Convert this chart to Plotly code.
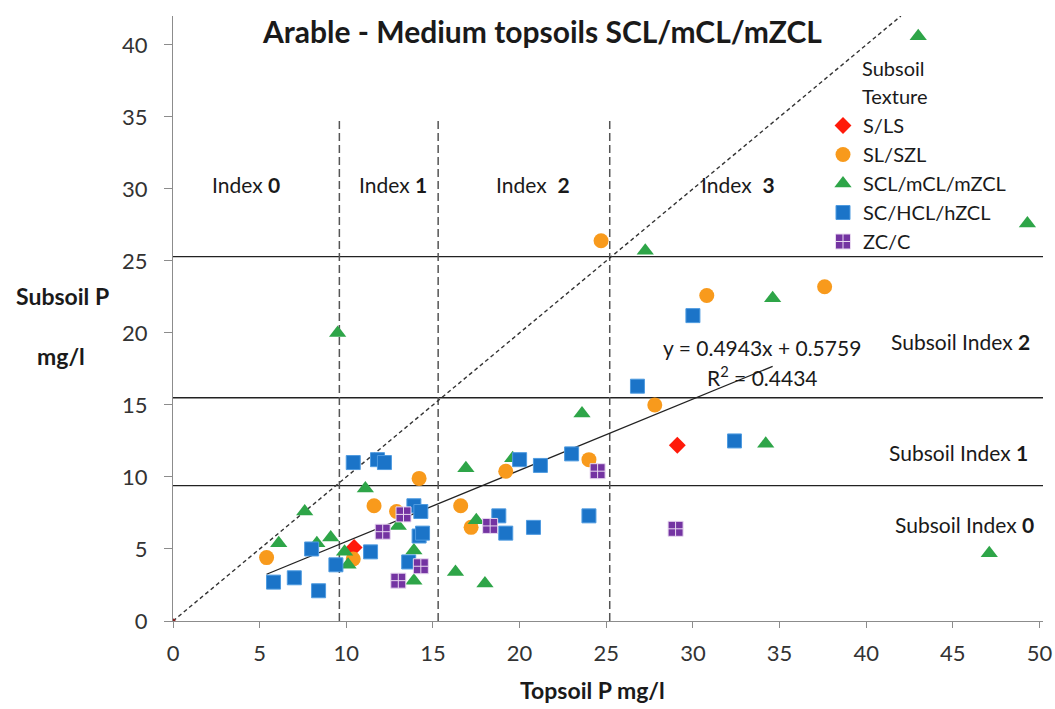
import plotly.graph_objects as go

# ---- data ----
sls_x = [29.1, 10.45]
sls_y = [12.2, 5.1]

slszl_x = [24.7, 30.8, 37.6, 27.8, 24.0, 19.2, 14.2, 11.6, 12.9, 16.6, 17.2, 5.4, 10.4]
slszl_y = [26.4, 22.6, 23.2, 15.0, 11.2, 10.4, 9.9, 8.0, 7.6, 8.0, 6.5, 4.4, 4.3]

scl_x = [43.0, 49.3, 27.25, 34.6, 34.2, 23.6, 9.5, 47.1, 16.9, 19.6, 11.1, 13.0, 17.5,
         13.9, 13.9, 16.3, 18.0, 7.6, 6.1, 8.3, 9.1, 9.9, 10.1]
scl_y = [40.6, 27.6, 25.7, 22.4, 12.3, 14.4, 20.0, 4.7, 10.6, 11.3, 9.2, 6.6, 7.0,
         4.9, 2.8, 3.4, 2.6, 7.6, 5.4, 5.4, 5.8, 4.8, 3.9]

sc_x = [30.0, 26.8, 32.4, 24.0, 23.0, 21.2, 20.0, 20.8, 18.8, 19.2, 11.8, 12.2, 13.9,
        14.3, 14.2, 14.4, 13.6, 11.4, 10.4, 8.0, 9.4, 5.8, 7.0, 8.4]
sc_y = [21.2, 16.3, 12.5, 7.3, 11.6, 10.8, 11.2, 6.5, 7.3, 6.1, 11.2, 11.0, 8.0,
        7.6, 5.9, 6.1, 4.1, 4.8, 11.0, 5.0, 3.9, 2.7, 3.0, 2.1]

zc_x = [29.0, 24.5, 18.3, 13.3, 12.1, 14.3, 13.0]
zc_y = [6.4, 10.4, 6.6, 7.4, 6.2, 3.8, 2.8]

topsoil_bounds = [9.6, 15.3, 25.2]
subsoil_bounds = [9.4, 15.5, 25.3]
vline_top = 34.8
x_max = 50.2
y_max = 42.0
one_to_one = [0, 42.0]

slope, intercept = 0.4943, 0.5759
trend_x = [5.4, 34.6]

x_ticks = [0, 5, 10, 15, 20, 25, 30, 35, 40, 45, 50]
y_ticks = [0, 5, 10, 15, 20, 25, 30, 35, 40]

FONT = "Lato"

fig = go.Figure()

# reference lines
for yb in subsoil_bounds:
    fig.add_trace(go.Scatter(x=[0, x_max], y=[yb, yb], mode="lines",
                             line=dict(color="#222222", width=1.3),
                             showlegend=False, hoverinfo="skip"))
for xb in topsoil_bounds:
    fig.add_trace(go.Scatter(x=[xb, xb], y=[0, vline_top], mode="lines",
                             line=dict(color="#555555", width=1.5, dash="8px,4px"),
                             showlegend=False, hoverinfo="skip"))
fig.add_trace(go.Scatter(x=one_to_one, y=one_to_one, mode="lines",
                         line=dict(color="#333333", width=1.4, dash="4px,3px"),
                         showlegend=False, hoverinfo="skip"))
fig.add_trace(go.Scatter(x=trend_x, y=[slope * v + intercept for v in trend_x], mode="lines",
                         line=dict(color="#222222", width=1.3),
                         showlegend=False, hoverinfo="skip"))
fig.add_trace(go.Scatter(x=[0], y=[0], mode="markers",
                         marker=dict(color="#8B2020", size=5),
                         showlegend=False, hoverinfo="skip"))

# data series
fig.add_trace(go.Scatter(x=sls_x, y=sls_y, mode="markers", name="S/LS", legendgroup="a",
                         marker=dict(symbol="diamond", size=13, color="#FF1A0A")))
fig.add_trace(go.Scatter(x=slszl_x, y=slszl_y, mode="markers", name="SL/SZL", legendgroup="b",
                         marker=dict(symbol="circle", size=15, color="#F89A1C")))
fig.add_trace(go.Scatter(x=scl_x, y=scl_y, mode="markers", name="SCL/mCL/mZCL", legendgroup="c",
                         marker=dict(symbol="triangle-up", size=15, color="#2EA548")))
fig.add_trace(go.Scatter(x=sc_x, y=sc_y, mode="markers", name="SC/HCL/hZCL", legendgroup="d",
                         marker=dict(symbol="square", size=14, color="#1B74C8",
                                     line=dict(color="#4F9BE0", width=1))))
fig.add_trace(go.Scatter(x=zc_x, y=zc_y, mode="markers", name="ZC/C", legendgroup="e",
                         marker=dict(symbol="square-cross", size=15, color="#7434A2",
                                     line=dict(color="#E8D8F0", width=1))))

ann = []
def add_text(x, y, text, size=21, bold=False, xanchor="center", xref="paper", yref="paper"):
    ann.append(dict(x=x, y=y, xref=xref, yref=yref, text=("<b>%s</b>" % text) if bold else text,
                    showarrow=False, xanchor=xanchor, yanchor="middle",
                    font=dict(family=FONT, size=size, color="#1a1a1a")))

PLOT_W = 1055 - 173 - 12
PLOT_H = 709 - 16 - 88
def px_x(p):
    return (p - 173) / PLOT_W
def px_y(p):
    return (621 - p) / PLOT_H

add_text(px_x(246), px_y(184), "Index <b>0</b>")
add_text(px_x(393), px_y(184), "Index <b>1</b>")
add_text(px_x(533), px_y(184), "Index  <b>2</b>")
add_text(px_x(738), px_y(184), "Index  <b>3</b>")
add_text(px_x(1032), px_y(341), "Subsoil Index <b>2</b>", xanchor="right")
add_text(px_x(1030), px_y(452), "Subsoil Index <b>1</b>", xanchor="right")
add_text(px_x(1036), px_y(524), "Subsoil Index <b>0</b>", xanchor="right")
add_text(px_x(762), px_y(347), "y = 0.4943x + 0.5759")
add_text(px_x(762), px_y(376), "R<sup>2</sup> = 0.4434")
add_text(px_x(860), px_y(68), "Subsoil", size=20, xanchor="left")
add_text(px_x(860), px_y(96), "Texture", size=20, xanchor="left")
# axis titles
add_text(px_x(62), px_y(296), "Subsoil P", size=23, bold=True)
add_text(px_x(61), px_y(356), "mg/l", size=23, bold=True)
add_text(px_x(592), px_y(690), "Topsoil P mg/l", size=23, bold=True)
# title
add_text(px_x(542), px_y(31), "Arable - Medium topsoils SCL/mCL/mZCL", size=30, bold=True)

fig.update_layout(
    width=1055, height=709,
    margin=dict(l=173, r=12, t=16, b=88, autoexpand=False),
    paper_bgcolor="white", plot_bgcolor="white",
    font=dict(family=FONT, size=20, color="#222222"),
    annotations=ann,
    showlegend=True,
    legend=dict(x=px_x(823), y=px_y(106), xanchor="left", yanchor="top",
                bgcolor="rgba(0,0,0,0)", font=dict(family=FONT, size=20, color="#1a1a1a"),
                tracegroupgap=0, itemwidth=30),
    xaxis=dict(range=[0, x_max], tickvals=x_ticks, showgrid=False, zeroline=False,
               showline=True, linecolor="#8c8c8c", linewidth=1.2, automargin=False,
               ticks="outside", ticklen=6, tickcolor="#8c8c8c", ticklabelstandoff=6,
               tickfont=dict(family=FONT, size=22, color="#333333")),
    yaxis=dict(range=[0, y_max], tickvals=y_ticks, showgrid=False, zeroline=False,
               showline=True, linecolor="#8c8c8c", linewidth=1.2, automargin=False,
               ticks="outside", ticklen=8, tickcolor="#8c8c8c", ticklabelstandoff=12,
               tickfont=dict(family=FONT, size=22, color="#333333")),
)

fig.write_html("out.html")
